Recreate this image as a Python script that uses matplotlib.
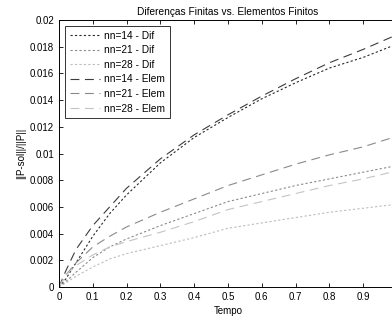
import matplotlib
matplotlib.use("Agg")
import matplotlib.pyplot as plt

# tempo (s) e erro relativo ||P-sol||/||P||
tempo = [0, 0.02, 0.05, 0.1, 0.15, 0.2, 0.3, 0.4, 0.5, 0.6, 0.7, 0.8, 0.9, 1.0]

dif_14 = [0, 0.0006, 0.0018, 0.0038, 0.0055, 0.0069, 0.0093, 0.0112, 0.0127,
          0.0141, 0.0153, 0.0164, 0.0172, 0.0182]
dif_21 = [0, 0.0004, 0.0011, 0.0022, 0.0030, 0.0036, 0.0046, 0.0055, 0.0064,
          0.0070, 0.0076, 0.0081, 0.0086, 0.0091]
dif_28 = [0, 0.0003, 0.0008, 0.0015, 0.0021, 0.0025, 0.0031, 0.0037, 0.0044,
          0.0048, 0.0052, 0.0056, 0.0059, 0.0062]

elem_14 = [0, 0.0012, 0.0028, 0.0046, 0.0060, 0.0074, 0.0096, 0.0114, 0.0129,
           0.0143, 0.0156, 0.0168, 0.0178, 0.0189]
elem_21 = [0, 0.0009, 0.0018, 0.0030, 0.0038, 0.0045, 0.0056, 0.0066, 0.0076,
           0.0084, 0.0092, 0.0099, 0.0105, 0.0113]
elem_28 = [0, 0.0009, 0.0016, 0.0024, 0.0030, 0.0034, 0.0041, 0.0049, 0.0058,
           0.0064, 0.0070, 0.0076, 0.0081, 0.0087]

xticks = [0, 0.1, 0.2, 0.3, 0.4, 0.5, 0.6, 0.7, 0.8, 0.9, 1]
# o "1" fica fora da figura, entao vai sem rotulo
xtick_labels = ["0", "0.1", "0.2", "0.3", "0.4", "0.5", "0.6", "0.7", "0.8", "0.9", ""]
yticks = [0, 0.002, 0.004, 0.006, 0.008, 0.01, 0.012, 0.014, 0.016, 0.018, 0.02]
ytick_labels = ["0", "0.002", "0.004", "0.006", "0.008", "0.01", "0.012",
                "0.014", "0.016", "0.018", "0.02"]

plt.rcParams["font.family"] = ["Liberation Sans", "DejaVu Sans"]
plt.rcParams["font.size"] = 7

fig = plt.figure(figsize=(3.92, 3.22), dpi=100)
ax = fig.add_axes([0.1505, 0.1087, 0.862, 0.829])

dot = (2, 2)
dash = (8, 5)
lw = 0.8

ax.plot(tempo, dif_14, color="#2a2a2a", lw=lw, dashes=dot, label="nn=14 - Dif")
ax.plot(tempo, dif_21, color="#8a8a8a", lw=lw, dashes=dot, label="nn=21 - Dif")
ax.plot(tempo, dif_28, color="#bdbdbd", lw=lw, dashes=dot, label="nn=28 - Dif")
ax.plot(tempo, elem_14, color="#3c3c3c", lw=lw, dashes=dash, label="nn=14 - Elem")
ax.plot(tempo, elem_21, color="#8a8a8a", lw=lw, dashes=dash, label="nn=21 - Elem")
ax.plot(tempo, elem_28, color="#c4c4c4", lw=lw, dashes=dash, label="nn=28 - Elem")

ax.set_xlim(0, 1)
ax.set_ylim(0, 0.02)
ax.set_xticks(xticks)
ax.set_xticklabels(xtick_labels)
ax.set_yticks(yticks)
ax.set_yticklabels(ytick_labels)
ax.tick_params(direction="in", top=True, right=True, length=3, width=0.6, pad=3.5)
for s in ax.spines.values():
    s.set_linewidth(0.7)

ax.set_title("Diferenças Finitas vs. Elementos Finitos", fontsize=7.3, pad=4)
ax.set_xlabel("Tempo", fontsize=7, labelpad=3)
ax.set_ylabel("||P-sol||/||P||", fontsize=7, labelpad=3)

leg = ax.legend(loc="upper left", prop={"size": 7.3}, frameon=True, fancybox=False,
                edgecolor="black", handlelength=3.0, handletextpad=0.4,
                labelspacing=0.45, borderpad=0.45, borderaxespad=0.6)
leg.get_frame().set_linewidth(0.7)

fig.savefig("out.png", dpi=100)
